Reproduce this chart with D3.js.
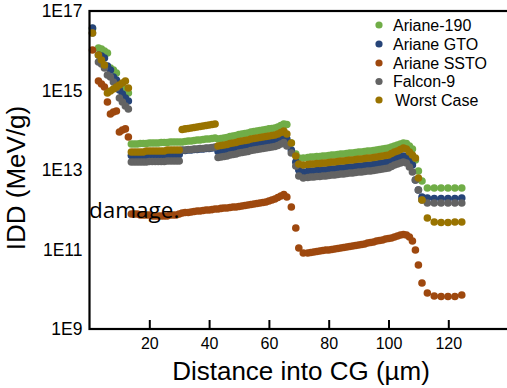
<!DOCTYPE html>
<html>
<head>
<meta charset="utf-8">
<script src="https://cdn.jsdelivr.net/npm/d3@7"></script>
<style>
  html, body { margin: 0; padding: 0; background: #fff; }
  svg { display: block; }
</style>
</head>
<body>
<svg id="chart" width="507" height="388"></svg>
<script>
// Depth into the cover glass (µm) at which each dose value was sampled
const distance = [
  1, 3, 4, 5, 6, 7, 8, 9, 10, 11, 12, 13,
  14, 15, 16, 17, 18, 19, 20, 21, 22, 23, 24, 25, 26, 27, 28, 29, 30,
  31, 32, 33, 34, 35, 36, 37, 38, 39, 40, 41, 42,
  43, 44, 45, 46, 47, 48, 49, 50, 51, 52, 53, 54, 55, 56, 57, 58, 59, 60, 61, 62, 63, 64, 65, 66,
  67.5, 69, 70, 71.5,
  73, 74, 75, 76, 77, 78, 79, 80, 81, 82, 83, 84, 85, 86, 87, 88, 89, 90, 91, 92,
  93, 94, 95, 96, 97, 98, 99, 100, 101, 102, 103, 104, 105, 106, 107, 108, 109, 110,
  111.2,
  113, 115.3, 117.6, 119.9, 122.2, 124.5
];

// Ionizing dose deposited (MeV/g), one array per launch environment
const ariane190 = [
  3.6e16, 1.17e16, 1.11e16, 9.86e15, 8.78e15, 3.68e15, 3.28e15, 2.76e15, 1.46e15, 1.22e15, 1.03e15, 8.65e14,
  4.51e13, 4.51e13, 4.51e13, 4.64e13, 4.64e13, 4.64e13, 4.78e13, 4.78e13, 4.78e13, 4.78e13, 4.92e13, 4.92e13, 4.92e13, 5.06e13, 5.06e13, 5.06e13, 5.06e13,
  5.06e13, 5.21e13, 5.37e13, 5.37e13, 5.52e13, 5.69e13, 5.69e13, 5.85e13, 6.03e13, 6.03e13, 6.20e13, 6.38e13,
  6.03e13, 6.20e13, 6.38e13, 6.57e13, 6.96e13, 7.17e13, 7.38e13, 7.82e13, 8.05e13, 8.29e13, 8.53e13, 9.04e13, 9.30e13, 9.58e13, 9.86e13, 1.01e14, 1.04e14, 1.08e14, 1.11e14, 1.14e14, 1.21e14, 1.32e14, 1.44e14, 1.40e14,
  4.78e13, 2.53e13, 2.00e13, 2.00e13,
  2.06e13, 2.12e13, 2.12e13, 2.19e13, 2.19e13, 2.25e13, 2.25e13, 2.32e13, 2.38e13, 2.38e13, 2.45e13, 2.53e13, 2.53e13, 2.60e13, 2.68e13, 2.68e13, 2.76e13, 2.84e13, 2.84e13, 2.92e13,
  3.01e13, 3.01e13, 3.09e13, 3.19e13, 3.28e13, 3.38e13, 3.47e13, 3.58e13, 3.79e13, 4.02e13, 4.26e13, 4.51e13, 4.78e13, 4.64e13, 4.02e13, 3.38e13, 1.79e13, 9.44e12,
  5.29e12,
  3.53e12, 3.53e12, 3.53e12, 3.53e12, 3.53e12, 3.53e12
];

const arianeGTO = [
  3.73e16, 7.82e15, 7.38e15, 6.57e15, 4.13e15, 3.28e15, 2.19e15, 1.84e15, 1.03e15, 8.17e14, 6.48e14, 5.44e14,
  2.32e13, 2.32e13, 2.32e13, 2.32e13, 2.32e13, 2.32e13, 2.38e13, 2.38e13, 2.38e13, 2.38e13, 2.38e13, 2.38e13, 2.45e13, 2.45e13, 2.45e13, 2.45e13, 2.45e13,
  3.09e13, 3.09e13, 3.19e13, 3.19e13, 3.28e13, 3.28e13, 3.38e13, 3.38e13, 3.47e13, 3.47e13, 3.58e13, 3.68e13,
  2.92e13, 3.01e13, 3.09e13, 3.19e13, 3.38e13, 3.47e13, 3.58e13, 3.79e13, 3.90e13, 4.02e13, 4.13e13, 4.38e13, 4.51e13, 4.64e13, 4.78e13, 4.92e13, 5.06e13, 5.21e13, 5.37e13, 5.52e13, 5.85e13, 6.38e13, 6.96e13, 6.03e13,
  3.19e13, 1.59e13, 1.00e13, 8.91e12,
  9.17e12, 9.44e12, 9.44e12, 9.71e12, 9.71e12, 1.00e13, 1.00e13, 1.03e13, 1.06e13, 1.06e13, 1.09e13, 1.12e13, 1.12e13, 1.16e13, 1.19e13, 1.19e13, 1.22e13, 1.26e13, 1.26e13, 1.30e13,
  1.34e13, 1.34e13, 1.38e13, 1.42e13, 1.46e13, 1.50e13, 1.54e13, 1.59e13, 1.73e13, 1.89e13, 2.00e13, 2.12e13, 2.25e13, 2.12e13, 1.79e13, 1.34e13, 5.60e12, 3.14e12,
  2.09e12,
  1.98e12, 1.92e12, 1.92e12, 1.92e12, 1.92e12, 1.98e12
];

const arianeSSTO = [
  1.04e16, 1.73e15, 1.46e15, 1.22e15, 5.14e14, 2.56e14, 2.88e14, 3.05e14, 9.04e13, 1.01e14, 1.08e14, 6.77e13,
  7.82e11, 7.82e11, 7.82e11, 7.38e11, 7.38e11, 7.38e11, 7.38e11, 6.96e11, 6.96e11, 6.96e11, 6.96e11, 6.96e11, 6.96e11, 7.38e11, 7.38e11, 7.38e11, 7.82e11,
  8.29e11, 8.53e11, 8.53e11, 8.78e11, 9.04e11, 9.30e11, 9.30e11, 9.58e11, 9.86e11, 9.86e11, 1.01e12, 1.04e12,
  1.04e12, 1.08e12, 1.11e12, 1.11e12, 1.14e12, 1.17e12, 1.17e12, 1.21e12, 1.24e12, 1.28e12, 1.32e12, 1.36e12, 1.40e12, 1.44e12, 1.48e12, 1.52e12, 1.57e12, 1.66e12, 1.76e12, 1.86e12, 2.03e12, 2.22e12, 2.42e12, 2.09e12,
  1.17e12, 3.47e11, 1.09e11, 8.17e10,
  8.17e10, 8.41e10, 8.65e10, 8.91e10, 9.17e10, 9.44e10, 9.71e10, 9.71e10, 1.00e11, 1.03e11, 1.06e11, 1.09e11, 1.12e11, 1.16e11, 1.19e11, 1.22e11, 1.26e11, 1.30e11, 1.34e11, 1.38e11,
  1.46e11, 1.50e11, 1.54e11, 1.64e11, 1.68e11, 1.73e11, 1.84e11, 1.89e11, 1.95e11, 2.06e11, 2.19e11, 2.32e11, 2.38e11, 2.32e11, 2.06e11, 1.64e11, 9.71e10, 4.07e10,
  1.44e10,
  8.05e9, 6.77e9, 6.57e9, 6.57e9, 6.57e9, 7.17e9
];

const falcon9 = [
  2.80e16, 5.21e15, 4.64e15, 3.68e15, 2.45e15, 2.19e15, 1.64e15, 1.16e15, 6.48e14, 5.14e14, 4.07e14, 3.42e14,
  1.59e13, 1.59e13, 1.59e13, 1.59e13, 1.59e13, 1.59e13, 1.64e13, 1.64e13, 1.64e13, 1.64e13, 1.64e13, 1.64e13, 1.68e13, 1.68e13, 1.68e13, 1.68e13, 1.68e13,
  3.19e13, 3.19e13, 3.28e13, 3.28e13, 3.38e13, 3.38e13, 3.47e13, 3.47e13, 3.58e13, 3.58e13, 3.68e13, 3.79e13,
  2.06e13, 2.12e13, 2.19e13, 2.25e13, 2.38e13, 2.45e13, 2.53e13, 2.68e13, 2.76e13, 2.84e13, 2.92e13, 3.09e13, 3.19e13, 3.28e13, 3.38e13, 3.47e13, 3.58e13, 3.68e13, 3.79e13, 3.90e13, 4.13e13, 4.51e13, 4.92e13, 4.02e13,
  2.68e13, 1.26e13, 7.06e12, 6.29e12,
  6.48e12, 6.67e12, 6.67e12, 6.86e12, 6.86e12, 7.06e12, 7.06e12, 7.27e12, 7.49e12, 7.49e12, 7.71e12, 7.93e12, 7.93e12, 8.17e12, 8.41e12, 8.41e12, 8.65e12, 8.91e12, 8.91e12, 9.17e12,
  9.44e12, 9.44e12, 9.71e12, 1.00e13, 1.03e13, 1.06e13, 1.09e13, 1.12e13, 1.22e13, 1.34e13, 1.42e13, 1.50e13, 1.59e13, 1.50e13, 1.19e13, 8.91e12, 5.60e12, 3.14e12,
  1.76e12,
  1.48e12, 1.48e12, 1.48e12, 1.48e12, 1.48e12, 1.48e12
];

const worstCase = [
  2.80e16, 7.82e15, 5.85e15, 4.38e15, 8.65e14, 9.71e14, 1.09e15, 1.22e15, 1.38e15, 1.54e15, 1.73e15, 1.16e15,
  2.84e13, 2.84e13, 2.84e13, 2.84e13, 2.84e13, 3.01e13, 3.01e13, 3.01e13, 3.01e13, 3.01e13, 3.01e13, 3.01e13, 3.19e13, 3.19e13, 3.19e13, 3.19e13, 3.19e13,
  1.04e14, 1.08e14, 1.11e14, 1.14e14, 1.17e14, 1.21e14, 1.24e14, 1.28e14, 1.32e14, 1.36e14, 1.40e14, 1.44e14,
  4.02e13, 4.13e13, 4.26e13, 4.38e13, 4.64e13, 4.78e13, 4.92e13, 5.21e13, 5.37e13, 5.52e13, 5.69e13, 6.03e13, 6.20e13, 6.38e13, 6.57e13, 6.77e13, 6.96e13, 7.17e13, 7.38e13, 7.60e13, 8.05e13, 8.78e13, 9.58e13, 8.05e13,
  4.78e13, 2.25e13, 1.42e13, 1.34e13,
  1.38e13, 1.42e13, 1.42e13, 1.46e13, 1.46e13, 1.50e13, 1.50e13, 1.54e13, 1.59e13, 1.59e13, 1.64e13, 1.68e13, 1.68e13, 1.73e13, 1.79e13, 1.79e13, 1.84e13, 1.89e13, 1.89e13, 1.95e13,
  2.00e13, 2.00e13, 2.06e13, 2.12e13, 2.19e13, 2.25e13, 2.32e13, 2.38e13, 2.60e13, 2.84e13, 3.01e13, 3.28e13, 3.58e13, 3.38e13, 2.84e13, 2.38e13, 2.00e13, 6.29e12,
  1.76e12,
  6.20e11, 4.92e11, 4.78e11, 4.78e11, 4.92e11, 4.92e11
];

const seriesNames = ["Ariane-190", "Ariane GTO", "Ariane SSTO", "Falcon-9", "Worst Case"];
const seriesValues = [ariane190, arianeGTO, arianeSSTO, falcon9, worstCase];
const seriesColors = ["#70AD47", "#264478", "#9E480E", "#636363", "#997300"];

const xTicks = [20, 40, 60, 80, 100, 120];
const yTicks = [1e9, 1e11, 1e13, 1e15, 1e17];
const yTickLabels = ["1E9", "1E11", "1E13", "1E15", "1E17"];

const axisFont = "'Liberation Sans', Arial, sans-serif";

const svg = d3.select("#chart");

const plot = { left: 89.5, right: 508.1, top: 11, bottom: 329 };
const x = d3.scaleLinear().domain([0, 140]).range([plot.left, plot.right]);
const y = d3.scaleLog().domain([1e9, 1e17]).range([plot.bottom, plot.top]);

// Markers, drawn series by series so later ones sit on top
const layers = svg.append("g");
seriesValues.forEach((vals, s) => {
  layers.append("g")
    .attr("fill", seriesColors[s])
    .selectAll("circle")
    .data(distance.map((d, i) => ({ d, v: vals[i] })))
    .join("circle")
    .attr("cx", p => x(p.d))
    .attr("cy", p => y(p.v))
    .attr("r", 3.8);
});

// Plot frame
svg.append("rect")
  .attr("x", plot.left).attr("y", plot.top)
  .attr("width", plot.right - plot.left).attr("height", plot.bottom - plot.top)
  .attr("fill", "none").attr("stroke", "#000").attr("stroke-width", 2.2);

// X axis with inward ticks
const xAxis = svg.append("g")
  .attr("transform", `translate(0,${plot.bottom})`)
  .call(d3.axisBottom(x).tickValues(xTicks).tickSizeInner(-9).tickSizeOuter(0).tickPadding(9));
xAxis.select(".domain").remove();
xAxis.selectAll(".tick line").attr("stroke", "#000").attr("stroke-width", 2);
xAxis.selectAll(".tick text")
  .attr("fill", "#000")
  .style("font-family", axisFont).style("font-size", "16px");

// Y axis: labels only
const yAxis = svg.append("g")
  .attr("transform", `translate(${plot.left},0)`)
  .call(d3.axisLeft(y).tickValues(yTicks).tickFormat((d, i) => yTickLabels[i]).tickSize(0).tickPadding(7));
yAxis.select(".domain").remove();
yAxis.selectAll(".tick text")
  .attr("fill", "#000")
  .style("font-family", axisFont).style("font-size", "17.5px");

// Axis titles
svg.append("text")
  .attr("x", 301).attr("y", 380)
  .attr("text-anchor", "middle")
  .style("font-family", axisFont).style("font-size", "26px")
  .attr("fill", "#000")
  .text("Distance into CG (µm)");

svg.append("text")
  .attr("transform", "translate(25,178) rotate(-90)")
  .attr("text-anchor", "middle")
  .style("font-family", axisFont).style("font-size", "26px")
  .attr("fill", "#000")
  .text("IDD (MeV/g)");

// Legend
const legendY = [25, 44, 63, 81.5, 100];
const legend = svg.append("g");
seriesNames.forEach((name, i) => {
  legend.append("circle")
    .attr("cx", 379).attr("cy", legendY[i]).attr("r", 3.6)
    .attr("fill", seriesColors[i]);
  legend.append("text")
    .attr("x", i === 4 ? 395 : 393).attr("y", legendY[i])
    .attr("dominant-baseline", "central")
    .style("font-family", axisFont).style("font-size", "16px")
    .attr("fill", "#000")
    .text(name);
});

// Stray caption word over the plot
svg.append("text")
  .attr("x", 89).attr("y", 218)
  .style("font-family", "'Open Sans', sans-serif").style("font-size", "22.5px")
  .attr("fill", "#000")
  .text("damage.");
</script>
</body>
</html>
